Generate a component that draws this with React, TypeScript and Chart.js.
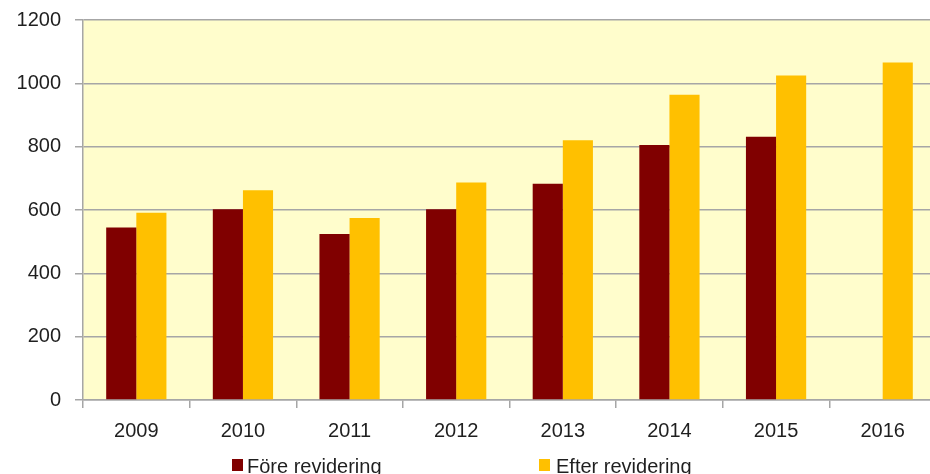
import React, { useEffect, useRef } from "react";
import { Chart, registerables } from "chart.js";

Chart.register(...registerables);

const categories = ["2009", "2010", "2011", "2012", "2013", "2014", "2015", "2016"];
const foreValues: (number | null)[] = [545, 602, 524, 602, 683, 805, 831, null];
const efterValues: number[] = [591, 662, 575, 687, 820, 964, 1025, 1066];
const seriesNames = ["Före revidering", "Efter revidering"];
const yTicks = [0, 200, 400, 600, 800, 1000, 1200];

const FONT = "'Liberation Sans', Arial, sans-serif";
const TEXT = "#1f1f1f";
const GRID = "#a6a6a6";
const DARK = "#800000";
const YELLOW = "#FFC000";

const bgPlugin = {
  id: "plotBg",
  beforeDraw(chart: any) {
    const { ctx, chartArea } = chart;
    ctx.save();
    ctx.fillStyle = "#FFFDCC";
    ctx.fillRect(chartArea.left, chartArea.top, chartArea.right - chartArea.left, chartArea.bottom - chartArea.top);
    ctx.restore();
  },
};

export default function App() {
  const ref = useRef<HTMLCanvasElement | null>(null);
  useEffect(() => {
    if (!ref.current) return;
    const chart = new Chart(ref.current, {
      type: "bar",
      data: {
        labels: categories,
        datasets: [
          { label: seriesNames[0], data: foreValues, backgroundColor: DARK, borderWidth: 0 },
          { label: seriesNames[1], data: efterValues, backgroundColor: YELLOW, borderWidth: 0 },
        ],
      },
      options: {
        animation: false,
        responsive: false,
        maintainAspectRatio: false,
        layout: { padding: { left: 0, right: 4, top: 20, bottom: 0 } },
        datasets: { bar: { categoryPercentage: 0.565, barPercentage: 1 } },
        plugins: { legend: { display: false }, tooltip: { enabled: false } },
        scales: {
          x: {
            offset: true,
            grid: { offset: true, drawOnChartArea: false, drawTicks: true, tickLength: 8, color: GRID, lineWidth: 1.5 },
            border: { display: true, color: GRID, width: 1.5 },
            ticks: { color: TEXT, font: { family: FONT, size: 20 }, padding: 11, maxRotation: 0 },
            afterFit(scale: any) {
              scale.height = 74;
              scale.paddingLeft = 0;
              scale.paddingRight = 0;
            },
          },
          y: {
            min: 0,
            max: 1200,
            afterBuildTicks(scale: any) {
              scale.ticks = yTicks.map((v) => ({ value: v }));
            },
            grid: { color: GRID, lineWidth: 1.5, tickLength: 8, drawTicks: true },
            border: { display: true, color: GRID, width: 1.5 },
            ticks: {
              color: TEXT,
              font: { family: FONT, size: 20 },
              padding: 14,
              callback: (v: any) => String(v),
            },
            afterFit(scale: any) {
              scale.width = 83;
              scale.paddingTop = 0;
              scale.paddingBottom = 0;
            },
          },
        },
      },
      plugins: [bgPlugin],
    });
    return () => chart.destroy();
  }, []);

  const legendText: React.CSSProperties = {
    position: "absolute",
    top: 456,
    fontFamily: FONT,
    fontSize: 20,
    lineHeight: "20px",
    color: TEXT,
    whiteSpace: "nowrap",
  };
  const box: React.CSSProperties = { position: "absolute", top: 459, width: 11, height: 12 };

  return (
    <div style={{ position: "fixed", left: 0, top: 0, width: 940, height: 474, overflow: "hidden", background: "#fff" }}>
      <canvas ref={ref} width={940} height={474} style={{ display: "block" }} />
      <div style={{ ...box, left: 232, background: DARK }} />
      <div style={{ ...legendText, left: 247 }}>{seriesNames[0]}</div>
      <div style={{ ...box, left: 539, background: YELLOW }} />
      <div style={{ ...legendText, left: 556 }}>{seriesNames[1]}</div>
    </div>
  );
}
